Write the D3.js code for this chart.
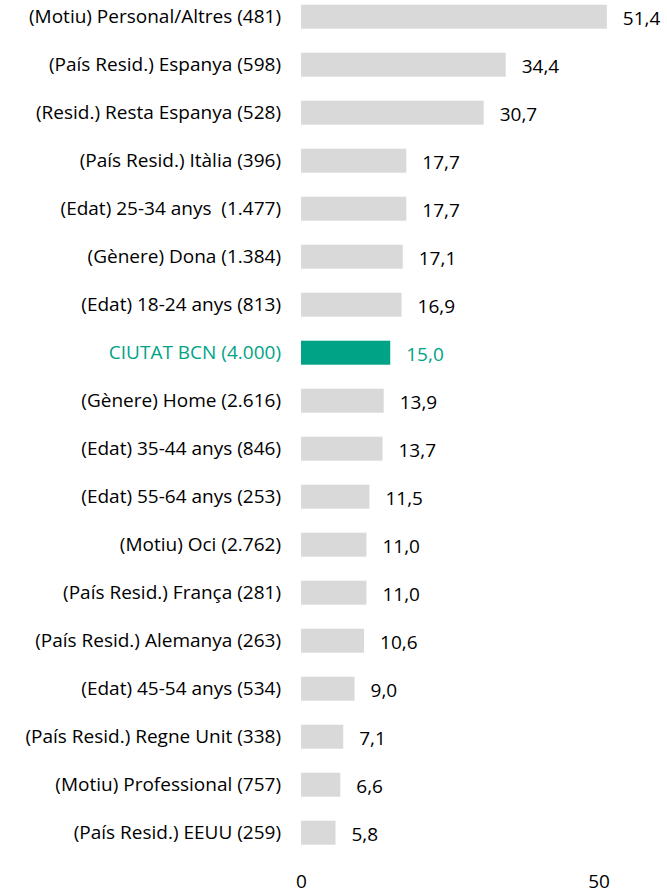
<!DOCTYPE html>
<html>
<head>
<meta charset="utf-8">
<script src="https://cdn.jsdelivr.net/npm/d3@7"></script>
<style>
  body { margin: 0; background: #fff; }
  text { font-family: "Open Sans", sans-serif; white-space: pre; }
</style>
</head>
<body>
<script>
// categories and values, top to bottom
let categories = [
  "(Motiu) Personal/Altres (481)",
  "(País Resid.) Espanya (598)",
  "(Resid.) Resta Espanya (528)",
  "(País Resid.) Itàlia (396)",
  "(Edat) 25-34 anys  (1.477)",
  "(Gènere) Dona (1.384)",
  "(Edat) 18-24 anys (813)",
  "CIUTAT BCN (4.000)",
  "(Gènere) Home (2.616)",
  "(Edat) 35-44 anys (846)",
  "(Edat) 55-64 anys (253)",
  "(Motiu) Oci (2.762)",
  "(País Resid.) França (281)",
  "(País Resid.) Alemanya (263)",
  "(Edat) 45-54 anys (534)",
  "(País Resid.) Regne Unit (338)",
  "(Motiu) Professional (757)",
  "(País Resid.) EEUU (259)"
];
let values = [51.4, 34.4, 30.7, 17.7, 17.7, 17.1, 16.9, 15.0, 13.9, 13.7, 11.5, 11.0, 11.0, 10.6, 9.0, 7.1, 6.6, 5.8];
let highlight = "CIUTAT BCN (4.000)";
let ticks = [0, 50];

const width = 667, height = 893;
const fs = 19;
const svg = d3.select("body").append("svg")
  .attr("width", width)
  .attr("height", height);

const x = d3.scaleLinear().domain([0, 50]).range([301, 598.5]);
const y = d3.scaleBand().domain(categories)
  .range([-7.3, 856.7])
  .paddingInner(0.5)
  .paddingOuter(0.25);

const green = "#00a386";
const grey = "#d9d9d9";

const data = categories.map((c, i) => ({ cat: c, val: values[i] }));

// bars
svg.selectAll("rect.bar")
  .data(data)
  .enter()
  .append("rect")
  .attr("class", "bar")
  .attr("x", x(0))
  .attr("y", d => y(d.cat))
  .attr("width", d => x(d.val) - x(0))
  .attr("height", y.bandwidth())
  .attr("fill", d => d.cat == highlight ? green : grey);

// category labels
svg.selectAll("text.cat")
  .data(data)
  .enter()
  .append("text")
  .attr("class", "cat")
  .attr("x", 281)
  .attr("y", d => y(d.cat) + y.bandwidth() / 2)
  .attr("dy", "0.35em")
  .attr("text-anchor", "end")
  .attr("font-size", fs)
  .attr("fill", d => d.cat == highlight ? green : "#000")
  .text(d => d.cat);

// value labels
svg.selectAll("text.val")
  .data(data)
  .enter()
  .append("text")
  .attr("class", "val")
  .attr("x", d => x(d.val) + 16)
  .attr("y", d => y(d.cat) + y.bandwidth() / 2 + 2)
  .attr("dy", "0.35em")
  .attr("font-size", fs)
  .attr("fill", d => d.cat == highlight ? green : "#000")
  .text(d => d.val.toFixed(1).replace(".", ","));

// x axis, labels only
const axis = svg.append("g")
  .attr("transform", "translate(0,874)")
  .call(d3.axisBottom(x).tickValues(ticks).tickSize(0).tickPadding(0));
axis.select(".domain").remove();
axis.selectAll("text")
  .attr("font-size", fs)
  .attr("fill", "#000")
  .attr("dy", "0.75em")
  .style("font-family", "'Open Sans', sans-serif");
</script>
</body>
</html>
